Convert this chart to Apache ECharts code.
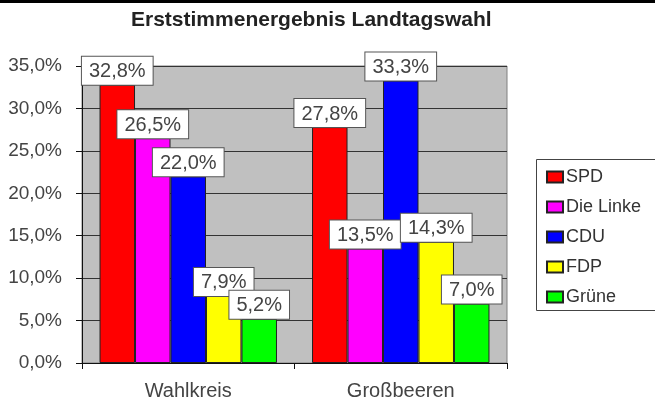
<!DOCTYPE html>
<html>
<head>
<meta charset="utf-8">
<title>Erststimmenergebnis Landtagswahl</title>
<script src="https://cdn.jsdelivr.net/npm/echarts@6/dist/echarts.min.js"></script>
<style>
  html, body { margin: 0; padding: 0; background: #fff; }
  #chart { width: 655px; height: 401px; }
</style>
</head>
<body>
<div id="chart"></div>
<script>
// Daten
var categories = ['Wahlkreis', 'Großbeeren']
var parties = ['SPD', 'Die Linke', 'CDU', 'FDP', 'Grüne']
var spd = [32.8, 27.8]
var linke = [26.5, 13.5]
var cdu = [22.0, 33.3]
var fdp = [7.9, 14.3]
var gruene = [5.2, 7.0]
var yMin = 0
var yMax = 35
var yStep = 5

var colors = ['#ff0000', '#ff00ff', '#0000ff', '#ffff00', '#00ff00']
var values = [spd, linke, cdu, fdp, gruene]

function pct(v) {
  return v.toFixed(1).replace('.', ',') + '%'
}

var font = 'Liberation Sans, Arial, sans-serif'

var mychart = echarts.init(document.getElementById('chart'))

var series = parties.map(function (name, i) {
  return {
    name: name,
    type: 'bar',
    data: values[i],
    barGap: 0,
    barCategoryGap: '16.5%',
    itemStyle: {
      color: colors[i],
      borderColor: '#222',
      borderWidth: 1
    },
    label: {
      show: true,
      position: 'top',
      distance: 0,
      formatter: function (p) { return pct(p.value) },
      fontFamily: font,
      fontSize: 20,
      color: '#444',
      backgroundColor: '#fff',
      borderColor: '#555',
      borderWidth: 1,
      padding: [5, 7, 3, 7]
    }
  }
})

var option = {
  animation: false,
  backgroundColor: '#fff',
  title: {
    text: 'Erststimmenergebnis Landtagswahl',
    left: 131,
    top: 10,
    padding: 0,
    textStyle: {
      fontFamily: font,
      fontSize: 21,
      fontWeight: 'bold',
      color: '#222'
    }
  },
  graphic: [
    {
      type: 'rect',
      shape: { x: 0, y: 0, width: 655, height: 3 },
      style: { fill: '#000' }
    },
    // Legendenrahmen, rechts über den Rand hinaus (im Original abgeschnitten)
    {
      type: 'rect',
      z: 1,
      shape: { x: 536.5, y: 159.5, width: 140, height: 151 },
      style: { fill: '#fff', stroke: '#444', lineWidth: 1 }
    }
  ],
  legend: {
    data: parties,
    orient: 'vertical',
    left: 536,
    top: 159,
    icon: 'rect',
    itemWidth: 16,
    itemHeight: 11,
    itemGap: 12,
    padding: [9, 5, 6, 10],
    textStyle: {
      fontFamily: font,
      fontSize: 18,
      color: '#333',
      padding: [0, 0, 0, -2]
    }
  },
  grid: {
    left: 82,
    right: 148,
    top: 66,
    bottom: 38,
    show: true,
    backgroundColor: '#c0c0c0',
    borderColor: '#808080',
    borderWidth: 1
  },
  xAxis: {
    type: 'category',
    data: categories,
    axisLine: { show: true, lineStyle: { color: '#111', width: 1 } },
    axisTick: { show: true, length: 6, lineStyle: { color: '#111' } },
    axisLabel: {
      fontFamily: font,
      fontSize: 20,
      color: '#444',
      margin: 18
    }
  },
  yAxis: {
    type: 'value',
    min: yMin,
    max: yMax,
    interval: yStep,
    axisLine: { show: true, lineStyle: { color: '#111', width: 1 } },
    axisTick: { show: true, length: 6, lineStyle: { color: '#111' } },
    axisLabel: {
      fontFamily: font,
      fontSize: 19,
      color: '#444',
      margin: 20,
      formatter: function (v) { return pct(v) }
    },
    splitLine: { show: true, lineStyle: { color: '#333', width: 1 } }
  },
  series: series
}

mychart.setOption(option)
</script>
</body>
</html>
